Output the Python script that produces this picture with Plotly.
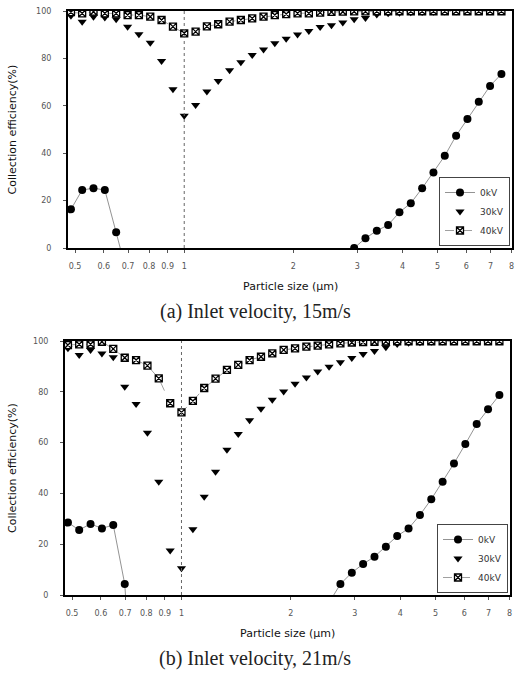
import plotly.graph_objects as go
import math

# ---------------- data ----------------
sizes = [0.487, 0.523, 0.562, 0.604, 0.649, 0.698, 0.750, 0.806, 0.866, 0.931,
         1.000, 1.075, 1.155, 1.241, 1.334, 1.433, 1.540, 1.655, 1.778, 1.911,
         2.054, 2.207, 2.371, 2.548, 2.738, 2.943, 3.162, 3.398, 3.652, 3.924,
         4.217, 4.532, 4.870, 5.233, 5.623, 6.043, 6.494, 6.978, 7.499]

a_0kv = [16.3, 24.5, 25.2, 24.5, 6.6, -12,
         None, None, None, None, None, None, None, None, None, None,
         None, None, None, None, None, None, None, None, None,
         0, 4.1, 7.3, 9.7, 15.1, 18.9, 25.2, 31.9, 38.9, 47.4, 54.4, 61.7, 68.4, 73.4]
a_30kv = [98.0, 95.5, 97.6, 97.3, 96.5, 93.4, 90.2, 86.6, 78.9, 67.0,
          55.8, 60.3, 66.0, 70.5, 75.0, 78.4, 81.4, 83.8, 86.4, 88.3,
          90.1, 91.6, 93.2, 94.0, 95.2, 96.5, 97.0, 98.5, 99.0, 99.3,
          99.5, 99.6, 99.7, 99.8, 99.8, 99.9, 99.9, 99.9, 99.9]
a_40kv = [99.5, 99.0, 99.7, 99.0, 99.0, 98.3, 98.3, 97.6, 96.2, 93.4,
          90.6, 91.3, 93.5, 94.4, 95.5, 96.2, 96.9, 97.6, 98.3, 98.7,
          99.0, 99.0, 99.3, 99.6, 99.7, 99.8, 99.8, 99.9, 99.9, 99.9,
          99.9, 99.9, 99.9, 99.9, 99.9, 99.9, 99.9, 99.9, 99.9]

b_0kv = [28.5, 25.6, 28.0, 26.2, 27.6, 4.3, -60,
         None, None, None, None, None, None, None, None, None,
         None, None, None, None, None, None, None,
         -3, 4.3, 8.8, 12.2, 15.1, 19.0, 23.2, 26.2, 31.5, 37.7, 44.6,
         51.8, 59.4, 67.3, 73.1, 78.7]
b_30kv = [97.1, 94.5, 96.5, 95.1, 93.6, 82.0, 75.2, 63.9, 44.6, 17.5,
          10.5, 25.9, 38.7, 48.5, 57.2, 63.4, 68.8, 73.3, 76.9, 80.1,
          83.2, 85.6, 88.0, 89.9, 91.6, 93.3, 94.9, 96.1, 97.5, 98.8,
          99.3, 99.5, 99.7, 99.8, 99.8, 99.9, 99.9, 99.9, 99.9]
b_40kv = [98.4, 98.7, 98.7, 99.7, 96.9, 93.4, 92.5, 90.3, 85.3, 75.5,
          71.9, 76.4, 81.5, 85.2, 88.6, 90.6, 92.5, 93.8, 95.1, 96.5,
          97.1, 97.8, 98.2, 98.7, 99.1, 99.4, 99.6, 99.7, 99.8, 99.9,
          99.9, 99.9, 99.9, 99.9, 99.9, 99.9, 99.9, 99.9, 99.9]

series_names = ["0kV", "30kV", "40kV"]
x_tickvals = [0.5, 0.6, 0.7, 0.8, 0.9, 1, 2, 3, 4, 5, 6, 7, 8]
x_ticktext = ["0.5", "0.6", "0.7", "0.8", "0.9", "1", "2", "3", "4", "5", "6", "7", "8"]
y_tickvals = [0, 20, 40, 60, 80, 100]
x_title = "Particle size (μm)"
y_title = "Collection efficiency(%)"
captions = ["(a) Inlet velocity, 15m/s", "(b) Inlet velocity, 21m/s"]

# ---------------- layout geometry ----------------
W, H = 516, 673
# (left, right, top, bottom) in px for each panel
panels = [(68, 512, 11, 248), (65, 510, 341, 595)]

def xdom(p):
    return [p[0] / W, p[1] / W]

def ydom(p):
    return [1 - p[3] / H, 1 - p[2] / H]

fig = go.Figure()

sans = "Liberation Sans, Arial, sans-serif"
wide = "DejaVu Sans, Verdana, sans-serif"
serif = "Liberation Serif, Times New Roman, serif"

def add_panel(idx, y0, y30, y40):
    sfx = "" if idx == 0 else "2"
    leg = "legend" if idx == 0 else "legend2"
    xa, ya = "x" + sfx, "y" + sfx
    fig.add_trace(go.Scatter(
        x=sizes, y=y0, name=series_names[0], xaxis=xa, yaxis=ya, legend=leg,
        mode="lines+markers",
        line=dict(color="#777777", width=0.8),
        marker=dict(symbol="circle", size=8, color="black")))
    fig.add_trace(go.Scatter(
        x=sizes, y=y30, name=series_names[1], xaxis=xa, yaxis=ya, legend=leg,
        mode="markers",
        marker=dict(symbol="triangle-down", size=8, color="black")))
    fig.add_trace(go.Scatter(
        x=sizes, y=y40, name=series_names[2], xaxis=xa, yaxis=ya, legend=leg,
        mode="lines+markers",
        line=dict(color="#888888", width=0.8, dash="dash"),
        marker=dict(symbol="square-x", size=7, color="white",
                    line=dict(color="black", width=1.3))))

add_panel(0, a_0kv, a_30kv, a_40kv)
add_panel(1, b_0kv, b_30kv, b_40kv)

xrange = [math.log10(0.478), math.log10(8.02)]

def xaxis_cfg(p, anchor):
    return dict(type="log", range=xrange, domain=xdom(p), anchor=anchor,
                tickvals=x_tickvals, ticktext=x_ticktext,
                ticks="outside", ticklen=3, tickcolor="#555",
                tickfont=dict(family=wide, size=8, color="#555"),
                showline=True, linecolor="black", linewidth=2, mirror=True,
                showgrid=False, zeroline=False, automargin=False,
                ticklabelstandoff=6)

def yaxis_cfg(p, anchor):
    return dict(range=[0, 100], domain=ydom(p), anchor=anchor,
                tickvals=y_tickvals, ticks="outside", ticklen=3,
                tickcolor="#555",
                tickfont=dict(family=wide, size=8, color="#555"),
                showline=True, linecolor="black", linewidth=2, mirror=True,
                showgrid=False, zeroline=False, automargin=False,
                ticklabelstandoff=10)

legend_common = dict(
    bgcolor="white", bordercolor="#444", borderwidth=1,
    font=dict(family=wide, size=9, color="#333"),
    xanchor="right", yanchor="bottom", itemwidth=30,
    tracegroupgap=0)

fig.update_layout(
    width=W, height=H,
    margin=dict(l=0, r=0, t=0, b=0),
    paper_bgcolor="white", plot_bgcolor="white",
    showlegend=True, hovermode=False,
    xaxis=xaxis_cfg(panels[0], "y"),
    yaxis=yaxis_cfg(panels[0], "x"),
    xaxis2=xaxis_cfg(panels[1], "y2"),
    yaxis2=yaxis_cfg(panels[1], "x2"),
    legend=dict(x=(panels[0][1] - 2) / W, y=1 - (panels[0][3] - 2) / H, **legend_common),
    legend2=dict(x=(panels[1][1] - 2) / W, y=1 - (panels[1][3] - 2) / H, **legend_common),
)

annotations = []
shapes = []
for i, p in enumerate(panels):
    sfx = "" if i == 0 else "2"
    cx = (p[0] + p[1]) / 2
    cy = (p[2] + p[3]) / 2
    # dotted reference line at 1 um
    shapes.append(dict(type="line", xref="x" + sfx, yref="y" + sfx + " domain",
                       x0=1, x1=1, y0=0, y1=1,
                       line=dict(color="#666", width=1, dash="dot")))
    annotations.append(dict(text=x_title, xref="paper", yref="paper",
                            x=cx / W, y=1 - (p[3] + 38) / H,
                            xanchor="center", yanchor="middle", showarrow=False,
                            font=dict(family=wide, size=11, color="#111")))
    annotations.append(dict(text=y_title, xref="paper", yref="paper",
                            x=12 / W, y=1 - cy / H, textangle=-90,
                            xanchor="center", yanchor="middle", showarrow=False,
                            font=dict(family=wide, size=11, color="#111")))
    annotations.append(dict(text=captions[i], xref="paper", yref="paper",
                            x=255 / W, y=1 - (p[3] + 63) / H,
                            xanchor="center", yanchor="middle", showarrow=False,
                            font=dict(family=serif, size=20, color="#222")))

fig.update_layout(annotations=annotations, shapes=shapes)

fig.write_html(
    "out.html",
    config={"displayModeBar": False},
    post_script="document.body.style.margin='0';document.body.style.overflow='hidden';",
)
